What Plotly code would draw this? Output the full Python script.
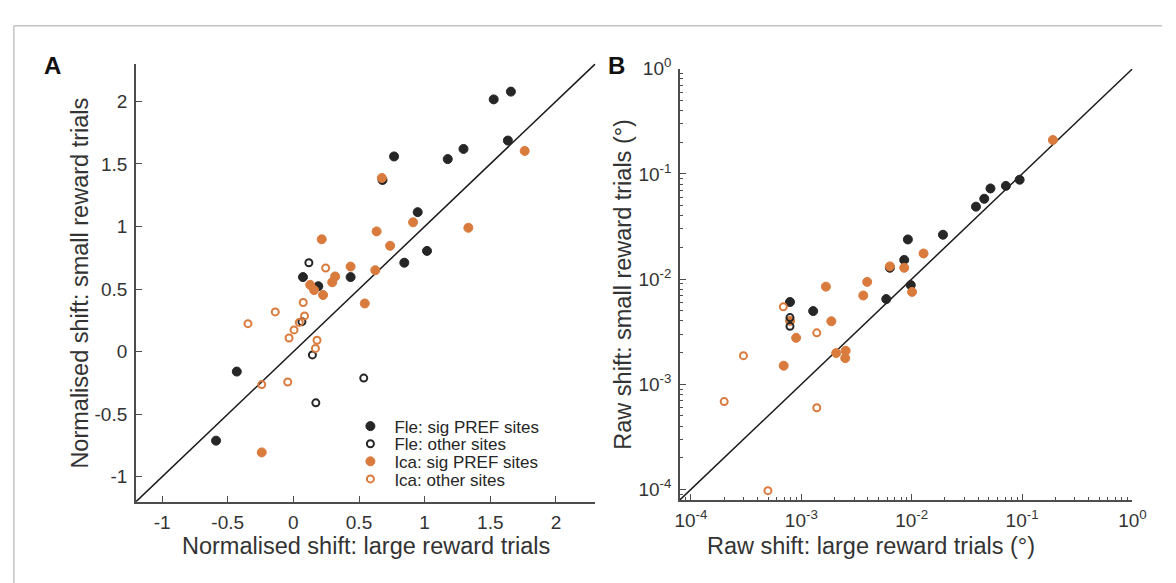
import plotly.graph_objects as go

# ---------------- data: panel A (normalised shift) ----------------
fle_sig_A_x = [1.657, 1.526, 1.634, 1.296, 1.176, 0.767, 0.679, 0.947, 1.018, 0.845, 0.073, 0.436, 0.19, -0.431, -0.589]
fle_sig_A_y = [2.078, 2.016, 1.687, 1.62, 1.539, 1.56, 1.372, 1.115, 0.805, 0.711, 0.596, 0.596, 0.523, -0.159, -0.711]
fle_oth_A_x = [0.118, 0.065, 0.145, 0.536, 0.171]
fle_oth_A_y = [0.711, 0.24, -0.026, -0.211, -0.409]
ica_sig_A_x = [0.674, 1.762, 0.912, 1.333, 0.634, 0.216, 0.737, 0.436, 0.624, 0.318, 0.296, 0.128, 0.158, 0.226, 0.544, -0.241]
ica_sig_A_y = [1.388, 1.604, 1.034, 0.99, 0.961, 0.898, 0.846, 0.68, 0.651, 0.601, 0.555, 0.534, 0.492, 0.453, 0.385, -0.805]
ica_oth_A_x = [0.246, 0.075, -0.138, -0.346, 0.085, 0.045, 0.005, -0.033, 0.18, 0.168, -0.241, -0.043]
ica_oth_A_y = [0.669, 0.393, 0.318, 0.224, 0.286, 0.234, 0.174, 0.109, 0.091, 0.026, -0.263, -0.242]

# ---------------- data: panel B (raw shift, degrees) ----------------
fle_sig_B_x = [0.095, 0.0713, 0.0517, 0.0454, 0.0382, 0.0192, 0.00923, 0.00855, 0.00634, 0.0098, 0.00588, 0.000789, 0.00128]
fle_sig_B_y = [0.088, 0.0769, 0.0727, 0.058, 0.0488, 0.0264, 0.0238, 0.0152, 0.0128, 0.00876, 0.00645, 0.00605, 0.00496]
fle_oth_B_x = [0.000789, 0.000789]
fle_oth_B_y = [0.0043, 0.00355]
ica_sig_B_x = [0.19, 0.0128, 0.00634, 0.00855, 0.01007, 0.00395, 0.00167, 0.00364, 0.00079, 0.00187, 0.000897, 0.00207, 0.00252, 0.0025, 0.000692]
ica_sig_B_y = [0.21, 0.0175, 0.0132, 0.0128, 0.00755, 0.0094, 0.00847, 0.00698, 0.0040, 0.00397, 0.00276, 0.00198, 0.00208, 0.00177, 0.0015]
ica_oth_B_x = [0.000687, 0.00138, 0.000299, 0.0002, 0.00138, 0.000498]
ica_oth_B_y = [0.00544, 0.00308, 0.00187, 0.000684, 0.000598, 0.0000972]

legend_names = ["Fle: sig PREF sites", "Fle: other sites", "Ica: sig PREF sites", "Ica: other sites"]
A_ticks = [-1, -0.5, 0, 0.5, 1, 1.5, 2]
A_ticklabels = ["-1", "-0.5", "0", "0.5", "1", "1.5", "2"]
A_range = [-1.2, 2.3]
B_ticks = [1e-4, 1e-3, 1e-2, 1e-1, 1e0]
B_ticklabels = ["10<sup>-4</sup>", "10<sup>-3</sup>", "10<sup>-2</sup>", "10<sup>-1</sup>", "10<sup>0</sup>"]
B_range_log = [-4.1, 0]

BLACK = "#262626"
ORANGE = "#DA7B3E"
FONT = "Liberation Sans, Arial, sans-serif"
W, H = 1176, 583

def filled(color):
    return dict(symbol="circle", size=9, color=color, line=dict(color=color, width=1))

def openm(color):
    return dict(symbol="circle-open", size=7, color=color, line=dict(color=color, width=2))

def px2x(p):
    return p / W

def px2y(p):
    return 1 - p / H

fig = go.Figure()

# identity lines
fig.add_trace(go.Scatter(x=A_range, y=A_range, mode="lines", line=dict(color="#1a1a1a", width=1.5),
                         showlegend=False, hoverinfo="skip", xaxis="x", yaxis="y"))
bl = [10 ** B_range_log[0], 10 ** B_range_log[1]]
fig.add_trace(go.Scatter(x=bl, y=bl, mode="lines", line=dict(color="#1a1a1a", width=1.5),
                         showlegend=False, hoverinfo="skip", xaxis="x2", yaxis="y2"))

legend_ids = ["legend", "legend2", "legend3", "legend4"]
legend_rows_px = [423, 441, 459, 477]

sets = [
    (fle_sig_A_x, fle_sig_A_y, fle_sig_B_x, fle_sig_B_y, filled(BLACK), 0),
    (ica_sig_A_x, ica_sig_A_y, ica_sig_B_x, ica_sig_B_y, filled(ORANGE), 2),
    (fle_oth_A_x, fle_oth_A_y, fle_oth_B_x, fle_oth_B_y, openm(BLACK), 1),
    (ica_oth_A_x, ica_oth_A_y, ica_oth_B_x, ica_oth_B_y, openm(ORANGE), 3),
]
for ax_, ay_, bx_, by_, mk, li in sets:
    fig.add_trace(go.Scatter(x=ax_, y=ay_, mode="markers", marker=mk, name=legend_names[li],
                             legend=legend_ids[li], xaxis="x", yaxis="y", legendgroup=legend_names[li]))
    fig.add_trace(go.Scatter(x=bx_, y=by_, mode="markers", marker=mk, name=legend_names[li],
                             showlegend=False, xaxis="x2", yaxis="y2", legendgroup=legend_names[li]))

axis_common = dict(showgrid=False, zeroline=False, showline=True, linecolor="#4d4d4d", linewidth=1.5,
                   ticks="inside", ticklen=6, tickwidth=1.2, tickcolor="#4d4d4d",
                   tickfont=dict(family=FONT, size=19, color="#333333"), mirror=False)

minor_vals = [m * 10 ** e for e in range(-5, 0) for m in range(2, 10)]
minor_vals = [v for v in minor_vals if 10 ** B_range_log[0] <= v <= 1]
minor_style = dict(tickvals=minor_vals, ticks="inside", ticklen=3, tickwidth=1, tickcolor="#4d4d4d")

layout_kw = dict(
    width=W, height=H, margin=dict(l=0, r=0, t=0, b=0),
    paper_bgcolor="white", plot_bgcolor="white",
    font=dict(family=FONT, color="#333333"),
    xaxis=dict(domain=[px2x(133), px2x(600)], range=A_range, tickvals=A_ticks, ticktext=A_ticklabels,
               anchor="y", ticklabelstandoff=3, **axis_common),
    yaxis=dict(domain=[px2y(500), px2y(52)], range=A_range, tickvals=A_ticks, ticktext=A_ticklabels,
               anchor="x", ticklabelstandoff=3, **axis_common),
    xaxis2=dict(domain=[px2x(686), px2x(1146)], type="log", range=B_range_log, tickvals=B_ticks,
                ticktext=B_ticklabels, anchor="y2", ticklabelstandoff=3, minor=minor_style, **axis_common),
    yaxis2=dict(domain=[px2y(498), px2y(57)], type="log", range=B_range_log, tickvals=B_ticks,
                ticktext=B_ticklabels, anchor="x2", ticklabelstandoff=3, minor=minor_style, **axis_common),
    showlegend=True,
)
for lid, row in zip(legend_ids, legend_rows_px):
    layout_kw[lid] = dict(x=px2x(347), y=px2y(row), xanchor="left", yanchor="middle",
                          bgcolor="rgba(0,0,0,0)", font=dict(family=FONT, size=17, color="#262626"),
                          itemsizing="trace", itemwidth=38, borderwidth=0)
fig.update_layout(**layout_kw)

ann = []
title_font = dict(family=FONT, size=23.5, color="#333333")
ann.append(dict(text="Normalised shift: large reward trials", x=px2x(367), y=px2y(545), xref="paper", yref="paper",
                showarrow=False, font=title_font, xanchor="center", yanchor="middle"))
ann.append(dict(text="Normalised shift: small reward trials", x=px2x(76), y=px2y(276), xref="paper", yref="paper",
                showarrow=False, font=title_font, textangle=-90, xanchor="center", yanchor="middle"))
ann.append(dict(text="Raw shift: large reward trials (°)", x=px2x(880), y=px2y(545), xref="paper", yref="paper",
                showarrow=False, font=title_font, xanchor="center", yanchor="middle"))
ann.append(dict(text="Raw shift: small reward trials (°)", x=px2x(628), y=px2y(277), xref="paper", yref="paper",
                showarrow=False, font=title_font, textangle=-90, xanchor="center", yanchor="middle"))
ann.append(dict(text="<b>A</b>", x=px2x(48), y=px2y(54), xref="paper", yref="paper", showarrow=False,
                font=dict(family=FONT, size=24, color="#111111"), xanchor="center", yanchor="middle"))
ann.append(dict(text="<b>B</b>", x=px2x(622), y=px2y(54), xref="paper", yref="paper", showarrow=False,
                font=dict(family=FONT, size=24, color="#111111"), xanchor="center", yanchor="middle"))
fig.update_layout(annotations=ann)

# outer frame (top and left edges)
fig.add_shape(type="line", xref="paper", yref="paper", x0=px2x(9), x1=1, y0=px2y(13), y1=px2y(13),
              line=dict(color="#c4c4c4", width=1.5))
fig.add_shape(type="line", xref="paper", yref="paper", x0=px2x(9), x1=px2x(9), y0=0, y1=px2y(13),
              line=dict(color="#c4c4c4", width=1.5))

fig.write_html("out.html", config={"displayModeBar": False},
               post_script="document.body.style.margin='0';document.body.style.overflow='hidden';")
